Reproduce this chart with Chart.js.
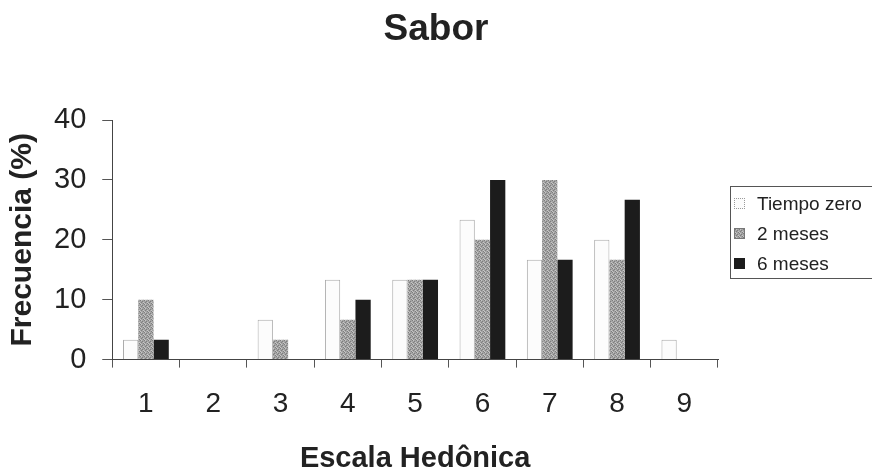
<!DOCTYPE html>
<html>
<head>
<meta charset="utf-8">
<script src="https://cdn.jsdelivr.net/npm/chart.js@4"></script>
<style>
  html, body { margin: 0; padding: 0; background: #fff; overflow: hidden; }
  #wrap { width: 872px; height: 476px; position: relative; overflow: hidden; }
  #c { position: absolute; left: 0; top: 0; }
  #title {
    position: absolute; left: 0; top: 8px; width: 872px; text-align: center;
    font-family: 'Liberation Sans', Arial, sans-serif; font-weight: bold; font-size: 37px;
    line-height: 40px; color: #222;
  }
  #legend {
    position: absolute; left: 730px; top: 186px; width: 160px; height: 93px;
    border: 1px solid #555; box-sizing: border-box;
    font-family: 'Liberation Sans', Arial, sans-serif; font-size: 19px; color: #222;
  }
  #legend .item { position: absolute; left: 3px; height: 22px; line-height: 22px; white-space: nowrap; }
  #legend .sw { display: inline-block; width: 11px; height: 11px; vertical-align: middle; margin-right: 12px; box-sizing: border-box; position: relative; top: -1px; }
</style>
</head>
<body>
<div id="wrap">
  <canvas id="c" width="872" height="476"></canvas>
  <div id="title">Sabor</div>
  <div id="legend"></div>
</div>
<script>
// Hedonic scale scores (1..9)
const categories = ['1', '2', '3', '4', '5', '6', '7', '8', '9'];
// Frequency (%) of each score per storage time
const tiempoZero = [3.33, 0, 6.67, 13.33, 13.33, 23.33, 16.67, 20, 3.33];
const dosMeses   = [10, 0, 3.33, 6.67, 13.33, 20, 30, 16.67, 0];
const seisMeses  = [3.33, 0, 0, 10, 13.33, 30, 16.67, 26.67, 0];
const yTicks = [0, 10, 20, 30, 40];
const seriesNames = ['Tiempo zero', '2 meses', '6 meses'];

// stippled grey fill for the "2 meses" bars
function stippleCanvas() {
  const p = document.createElement('canvas');
  p.width = 4; p.height = 4;
  const g = p.getContext('2d');
  g.fillStyle = '#a4a4a4';
  g.fillRect(0, 0, 4, 4);
  g.fillStyle = '#7e7e7e';
  [[0,0],[2,1],[1,2],[3,3]].forEach(([x,y]) => g.fillRect(x, y, 1, 1));
  g.fillStyle = '#c6c6c6';
  [[1,0],[3,2],[0,3]].forEach(([x,y]) => g.fillRect(x, y, 1, 1));
  return p;
}
const stip = stippleCanvas();
const stipplePattern = document.getElementById('c').getContext('2d').createPattern(stip, 'repeat');

const FONT = "'Liberation Sans', Arial, sans-serif";
const ink = '#222';

// legend (HTML, framed box at the right)
const swatchCss = [
  'background:#fcfcfc;border:1px dotted #9a9a9a;',
  'background:url(' + stip.toDataURL() + ');border:1px solid #777;',
  'background:#1c1c1c;'
];
const legendEl = document.getElementById('legend');
seriesNames.forEach((name, i) => {
  const it = document.createElement('div');
  it.className = 'item';
  it.style.top = (6 + i * 30) + 'px';
  it.innerHTML = '<span class="sw" style="' + swatchCss[i] + '"></span>' + name;
  legendEl.appendChild(it);
});

new Chart(document.getElementById('c'), {
  type: 'bar',
  data: {
    labels: categories,
    datasets: [
      { label: seriesNames[0], data: tiempoZero, backgroundColor: '#fcfcfc', borderColor: '#ababab', borderWidth: 1 },
      { label: seriesNames[1], data: dosMeses, backgroundColor: stipplePattern, borderWidth: 0 },
      { label: seriesNames[2], data: seisMeses, backgroundColor: '#1c1c1c', borderWidth: 0 }
    ]
  },
  options: {
    responsive: false,
    animation: false,
    events: [],
    layout: { padding: { top: 120, right: 154, bottom: 0, left: 0 } },
    datasets: { bar: { categoryPercentage: 0.68, barPercentage: 1.0 } },
    plugins: {
      title: { display: false },
      legend: { display: false },
      tooltip: { enabled: false }
    },
    scales: {
      x: {
        offset: true,
        grid: { display: true, offset: true, drawOnChartArea: false, drawTicks: true, tickLength: 8, color: '#555' },
        border: { display: true, color: '#444', width: 1 },
        ticks: { color: ink, font: { family: FONT, size: 28 }, padding: 20 },
        title: { display: true, text: 'Escala Hedônica', color: ink, font: { family: FONT, size: 29, weight: 'bold' }, padding: { top: 0, bottom: 0 } }
      },
      y: {
        min: 0, max: 40,
        afterBuildTicks(axis) { axis.ticks = yTicks.map(v => ({ value: v })); },
        grid: { display: true, drawOnChartArea: false, drawTicks: true, tickLength: 10, color: '#555' },
        border: { display: true, color: '#444', width: 1 },
        ticks: { color: ink, font: { family: FONT, size: 29 }, padding: 16 },
        title: { display: true, text: 'Frecuencia (%)', color: ink, font: { family: FONT, size: 30, weight: 'bold', lineHeight: 1.0 }, padding: { top: 8, bottom: 0 } }
      }
    }
  }
});
</script>
</body>
</html>
